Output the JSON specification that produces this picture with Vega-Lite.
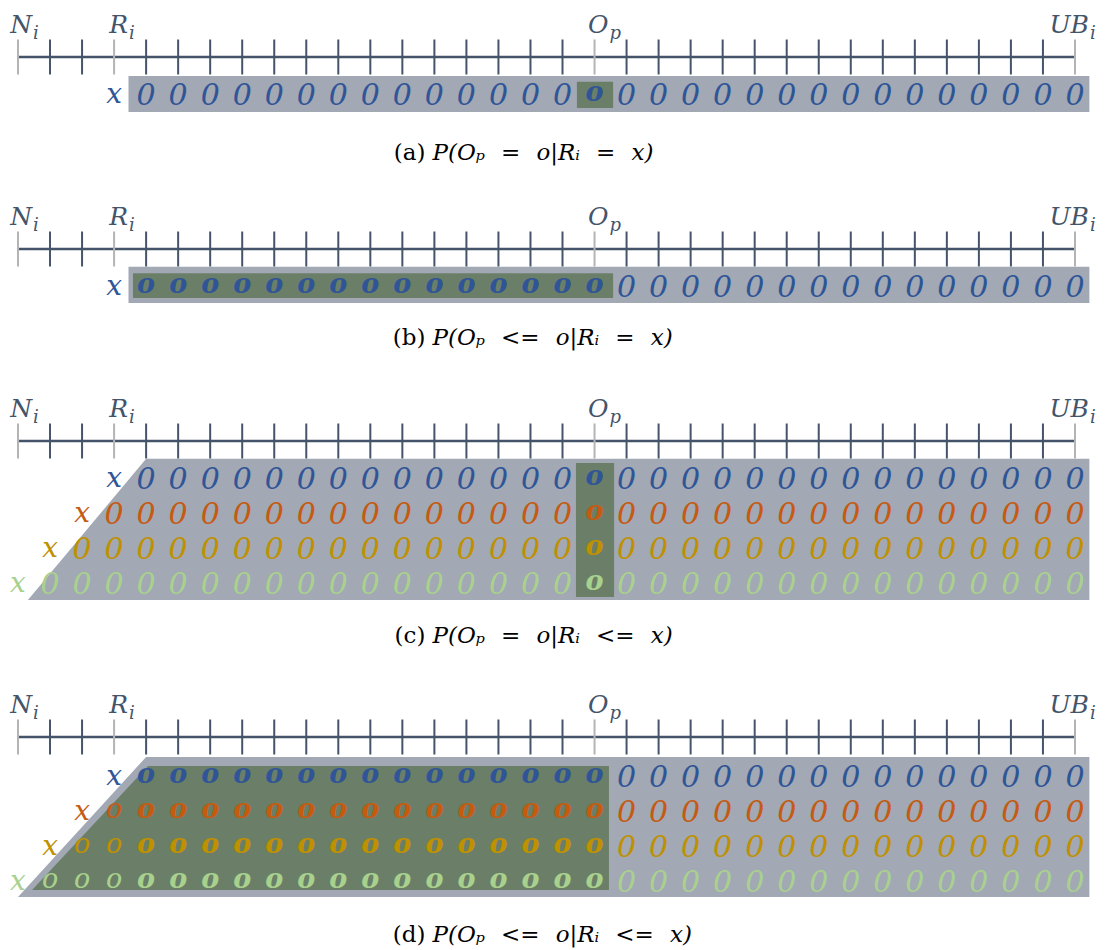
{
"$schema": "https://vega.github.io/schema/vega-lite/v6.json",
"padding": 0,
"spacing": 0,
"bounds": "flush",
"config": {"view": {"stroke": null}, "axis": {"disable": true}, "legend": {"disable": true}},
"resolve": {"scale": {"x": "independent", "y": "independent", "color": "shared"}},
"datasets": {
"ticks": [{"c":0,"k":"k"},{"c":1,"k":"m"},{"c":2,"k":"m"},{"c":3,"k":"k"},{"c":4,"k":"m"},{"c":5,"k":"m"},{"c":6,"k":"m"},{"c":7,"k":"m"},{"c":8,"k":"m"},{"c":9,"k":"m"},{"c":10,"k":"m"},{"c":11,"k":"m"},{"c":12,"k":"m"},{"c":13,"k":"m"},{"c":14,"k":"m"},{"c":15,"k":"m"},{"c":16,"k":"m"},{"c":17,"k":"m"},{"c":18,"k":"k"},{"c":19,"k":"m"},{"c":20,"k":"m"},{"c":21,"k":"m"},{"c":22,"k":"m"},{"c":23,"k":"m"},{"c":24,"k":"m"},{"c":25,"k":"m"},{"c":26,"k":"m"},{"c":27,"k":"m"},{"c":28,"k":"m"},{"c":29,"k":"m"},{"c":30,"k":"m"},{"c":31,"k":"m"},{"c":32,"k":"m"},{"c":33,"k":"k"}],
"labels": [{"c":0,"t":"N","s":"i"},{"c":3,"t":"R","s":"i"},{"c":18,"t":"O","s":"p"},{"c":33,"t":"UB","s":"i"}],
"shapes": [
{"p":"a","g":"gray","r":0.54,"c":3.45,"c2":33.45},{"p":"a","g":"gray","r":1.57,"c":3.45,"c2":33.45},
{"p":"a","g":"green","r":0.71,"c":17.45,"c2":18.58},{"p":"a","g":"green","r":1.46,"c":17.45,"c2":18.58},
{"p":"b","g":"gray","r":0.51,"c":3.45,"c2":33.45},{"p":"b","g":"gray","r":1.54,"c":3.45,"c2":33.45},
{"p":"b","g":"green","r":0.69,"c":3.59,"c2":18.58},{"p":"b","g":"green","r":1.4,"c":3.59,"c2":18.58},
{"p":"c","g":"gray","r":0.51,"c":4.0,"c2":33.45},{"p":"c","g":"gray","r":4.54,"c":0.31,"c2":33.45},
{"p":"c","g":"green","r":0.63,"c":17.42,"c2":18.61},{"p":"c","g":"green","r":4.46,"c":17.42,"c2":18.61},
{"p":"d","g":"gray","r":0.57,"c":4.0,"c2":33.45},{"p":"d","g":"gray","r":4.57,"c":0.0,"c2":33.45},
{"p":"d","g":"green","r":0.83,"c":4.06,"c2":18.45},{"p":"d","g":"green","r":4.37,"c":0.44,"c2":18.45}],
"xs": [{"p":"a","r":1,"c":3},{"p":"b","r":1,"c":3},{"p":"c","r":1,"c":3},{"p":"c","r":2,"c":2},{"p":"c","r":3,"c":1},{"p":"c","r":4,"c":0},{"p":"d","r":1,"c":3},{"p":"d","r":2,"c":2},{"p":"d","r":3,"c":1},{"p":"d","r":4,"c":0}],
"caps": [{"p":"a","tag":"(a)","f":"P(Oₚ\u2002\u2009=\u2002\u2009o|Rᵢ\u2002\u2009=\u2002\u2009x)"},{"p":"b","tag":"(b)","f":"P(Oₚ\u2002\u2009<=\u2002\u2009o|Rᵢ\u2002\u2009=\u2002\u2009x)"},{"p":"c","tag":"(c)","f":"P(Oₚ\u2002\u2009=\u2002\u2009o|Rᵢ\u2002\u2009<=\u2002\u2009x)"},{"p":"d","tag":"(d)","f":"P(Oₚ\u2002\u2009<=\u2002\u2009o|Rᵢ\u2002\u2009<=\u2002\u2009x)"}],
"cells": [
{"p":"a","r":1,"c":4,"s":"n"},{"p":"a","r":1,"c":5,"s":"n"},{"p":"a","r":1,"c":6,"s":"n"},{"p":"a","r":1,"c":7,"s":"n"},{"p":"a","r":1,"c":8,"s":"n"},{"p":"a","r":1,"c":9,"s":"n"},{"p":"a","r":1,"c":10,"s":"n"},{"p":"a","r":1,"c":11,"s":"n"},{"p":"a","r":1,"c":12,"s":"n"},{"p":"a","r":1,"c":13,"s":"n"},{"p":"a","r":1,"c":14,"s":"n"},{"p":"a","r":1,"c":15,"s":"n"},{"p":"a","r":1,"c":16,"s":"n"},{"p":"a","r":1,"c":17,"s":"n"},{"p":"a","r":1,"c":18,"s":"b"},{"p":"a","r":1,"c":19,"s":"n"},{"p":"a","r":1,"c":20,"s":"n"},{"p":"a","r":1,"c":21,"s":"n"},{"p":"a","r":1,"c":22,"s":"n"},{"p":"a","r":1,"c":23,"s":"n"},{"p":"a","r":1,"c":24,"s":"n"},{"p":"a","r":1,"c":25,"s":"n"},{"p":"a","r":1,"c":26,"s":"n"},{"p":"a","r":1,"c":27,"s":"n"},{"p":"a","r":1,"c":28,"s":"n"},{"p":"a","r":1,"c":29,"s":"n"},{"p":"a","r":1,"c":30,"s":"n"},{"p":"a","r":1,"c":31,"s":"n"},{"p":"a","r":1,"c":32,"s":"n"},{"p":"a","r":1,"c":33,"s":"n"},
{"p":"b","r":1,"c":4,"s":"b"},{"p":"b","r":1,"c":5,"s":"b"},{"p":"b","r":1,"c":6,"s":"b"},{"p":"b","r":1,"c":7,"s":"b"},{"p":"b","r":1,"c":8,"s":"b"},{"p":"b","r":1,"c":9,"s":"b"},{"p":"b","r":1,"c":10,"s":"b"},{"p":"b","r":1,"c":11,"s":"b"},{"p":"b","r":1,"c":12,"s":"b"},{"p":"b","r":1,"c":13,"s":"b"},{"p":"b","r":1,"c":14,"s":"b"},{"p":"b","r":1,"c":15,"s":"b"},{"p":"b","r":1,"c":16,"s":"b"},{"p":"b","r":1,"c":17,"s":"b"},{"p":"b","r":1,"c":18,"s":"b"},{"p":"b","r":1,"c":19,"s":"n"},{"p":"b","r":1,"c":20,"s":"n"},{"p":"b","r":1,"c":21,"s":"n"},{"p":"b","r":1,"c":22,"s":"n"},{"p":"b","r":1,"c":23,"s":"n"},{"p":"b","r":1,"c":24,"s":"n"},{"p":"b","r":1,"c":25,"s":"n"},{"p":"b","r":1,"c":26,"s":"n"},{"p":"b","r":1,"c":27,"s":"n"},{"p":"b","r":1,"c":28,"s":"n"},{"p":"b","r":1,"c":29,"s":"n"},{"p":"b","r":1,"c":30,"s":"n"},{"p":"b","r":1,"c":31,"s":"n"},{"p":"b","r":1,"c":32,"s":"n"},{"p":"b","r":1,"c":33,"s":"n"},
{"p":"c","r":1,"c":4,"s":"n"},{"p":"c","r":1,"c":5,"s":"n"},{"p":"c","r":1,"c":6,"s":"n"},{"p":"c","r":1,"c":7,"s":"n"},{"p":"c","r":1,"c":8,"s":"n"},{"p":"c","r":1,"c":9,"s":"n"},{"p":"c","r":1,"c":10,"s":"n"},{"p":"c","r":1,"c":11,"s":"n"},{"p":"c","r":1,"c":12,"s":"n"},{"p":"c","r":1,"c":13,"s":"n"},{"p":"c","r":1,"c":14,"s":"n"},{"p":"c","r":1,"c":15,"s":"n"},{"p":"c","r":1,"c":16,"s":"n"},{"p":"c","r":1,"c":17,"s":"n"},{"p":"c","r":1,"c":18,"s":"b"},{"p":"c","r":1,"c":19,"s":"n"},{"p":"c","r":1,"c":20,"s":"n"},{"p":"c","r":1,"c":21,"s":"n"},{"p":"c","r":1,"c":22,"s":"n"},{"p":"c","r":1,"c":23,"s":"n"},{"p":"c","r":1,"c":24,"s":"n"},{"p":"c","r":1,"c":25,"s":"n"},{"p":"c","r":1,"c":26,"s":"n"},{"p":"c","r":1,"c":27,"s":"n"},{"p":"c","r":1,"c":28,"s":"n"},{"p":"c","r":1,"c":29,"s":"n"},{"p":"c","r":1,"c":30,"s":"n"},{"p":"c","r":1,"c":31,"s":"n"},{"p":"c","r":1,"c":32,"s":"n"},{"p":"c","r":1,"c":33,"s":"n"},
{"p":"c","r":2,"c":3,"s":"n"},{"p":"c","r":2,"c":4,"s":"n"},{"p":"c","r":2,"c":5,"s":"n"},{"p":"c","r":2,"c":6,"s":"n"},{"p":"c","r":2,"c":7,"s":"n"},{"p":"c","r":2,"c":8,"s":"n"},{"p":"c","r":2,"c":9,"s":"n"},{"p":"c","r":2,"c":10,"s":"n"},{"p":"c","r":2,"c":11,"s":"n"},{"p":"c","r":2,"c":12,"s":"n"},{"p":"c","r":2,"c":13,"s":"n"},{"p":"c","r":2,"c":14,"s":"n"},{"p":"c","r":2,"c":15,"s":"n"},{"p":"c","r":2,"c":16,"s":"n"},{"p":"c","r":2,"c":17,"s":"n"},{"p":"c","r":2,"c":18,"s":"b"},{"p":"c","r":2,"c":19,"s":"n"},{"p":"c","r":2,"c":20,"s":"n"},{"p":"c","r":2,"c":21,"s":"n"},{"p":"c","r":2,"c":22,"s":"n"},{"p":"c","r":2,"c":23,"s":"n"},{"p":"c","r":2,"c":24,"s":"n"},{"p":"c","r":2,"c":25,"s":"n"},{"p":"c","r":2,"c":26,"s":"n"},{"p":"c","r":2,"c":27,"s":"n"},{"p":"c","r":2,"c":28,"s":"n"},{"p":"c","r":2,"c":29,"s":"n"},{"p":"c","r":2,"c":30,"s":"n"},{"p":"c","r":2,"c":31,"s":"n"},{"p":"c","r":2,"c":32,"s":"n"},{"p":"c","r":2,"c":33,"s":"n"},
{"p":"c","r":3,"c":2,"s":"n"},{"p":"c","r":3,"c":3,"s":"n"},{"p":"c","r":3,"c":4,"s":"n"},{"p":"c","r":3,"c":5,"s":"n"},{"p":"c","r":3,"c":6,"s":"n"},{"p":"c","r":3,"c":7,"s":"n"},{"p":"c","r":3,"c":8,"s":"n"},{"p":"c","r":3,"c":9,"s":"n"},{"p":"c","r":3,"c":10,"s":"n"},{"p":"c","r":3,"c":11,"s":"n"},{"p":"c","r":3,"c":12,"s":"n"},{"p":"c","r":3,"c":13,"s":"n"},{"p":"c","r":3,"c":14,"s":"n"},{"p":"c","r":3,"c":15,"s":"n"},{"p":"c","r":3,"c":16,"s":"n"},{"p":"c","r":3,"c":17,"s":"n"},{"p":"c","r":3,"c":18,"s":"b"},{"p":"c","r":3,"c":19,"s":"n"},{"p":"c","r":3,"c":20,"s":"n"},{"p":"c","r":3,"c":21,"s":"n"},{"p":"c","r":3,"c":22,"s":"n"},{"p":"c","r":3,"c":23,"s":"n"},{"p":"c","r":3,"c":24,"s":"n"},{"p":"c","r":3,"c":25,"s":"n"},{"p":"c","r":3,"c":26,"s":"n"},{"p":"c","r":3,"c":27,"s":"n"},{"p":"c","r":3,"c":28,"s":"n"},{"p":"c","r":3,"c":29,"s":"n"},{"p":"c","r":3,"c":30,"s":"n"},{"p":"c","r":3,"c":31,"s":"n"},{"p":"c","r":3,"c":32,"s":"n"},{"p":"c","r":3,"c":33,"s":"n"},
{"p":"c","r":4,"c":1,"s":"n"},{"p":"c","r":4,"c":2,"s":"n"},{"p":"c","r":4,"c":3,"s":"n"},{"p":"c","r":4,"c":4,"s":"n"},{"p":"c","r":4,"c":5,"s":"n"},{"p":"c","r":4,"c":6,"s":"n"},{"p":"c","r":4,"c":7,"s":"n"},{"p":"c","r":4,"c":8,"s":"n"},{"p":"c","r":4,"c":9,"s":"n"},{"p":"c","r":4,"c":10,"s":"n"},{"p":"c","r":4,"c":11,"s":"n"},{"p":"c","r":4,"c":12,"s":"n"},{"p":"c","r":4,"c":13,"s":"n"},{"p":"c","r":4,"c":14,"s":"n"},{"p":"c","r":4,"c":15,"s":"n"},{"p":"c","r":4,"c":16,"s":"n"},{"p":"c","r":4,"c":17,"s":"n"},{"p":"c","r":4,"c":18,"s":"b"},{"p":"c","r":4,"c":19,"s":"n"},{"p":"c","r":4,"c":20,"s":"n"},{"p":"c","r":4,"c":21,"s":"n"},{"p":"c","r":4,"c":22,"s":"n"},{"p":"c","r":4,"c":23,"s":"n"},{"p":"c","r":4,"c":24,"s":"n"},{"p":"c","r":4,"c":25,"s":"n"},{"p":"c","r":4,"c":26,"s":"n"},{"p":"c","r":4,"c":27,"s":"n"},{"p":"c","r":4,"c":28,"s":"n"},{"p":"c","r":4,"c":29,"s":"n"},{"p":"c","r":4,"c":30,"s":"n"},{"p":"c","r":4,"c":31,"s":"n"},{"p":"c","r":4,"c":32,"s":"n"},{"p":"c","r":4,"c":33,"s":"n"},
{"p":"d","r":1,"c":4,"s":"b"},{"p":"d","r":1,"c":5,"s":"b"},{"p":"d","r":1,"c":6,"s":"b"},{"p":"d","r":1,"c":7,"s":"b"},{"p":"d","r":1,"c":8,"s":"b"},{"p":"d","r":1,"c":9,"s":"b"},{"p":"d","r":1,"c":10,"s":"b"},{"p":"d","r":1,"c":11,"s":"b"},{"p":"d","r":1,"c":12,"s":"b"},{"p":"d","r":1,"c":13,"s":"b"},{"p":"d","r":1,"c":14,"s":"b"},{"p":"d","r":1,"c":15,"s":"b"},{"p":"d","r":1,"c":16,"s":"b"},{"p":"d","r":1,"c":17,"s":"b"},{"p":"d","r":1,"c":18,"s":"b"},{"p":"d","r":1,"c":19,"s":"n"},{"p":"d","r":1,"c":20,"s":"n"},{"p":"d","r":1,"c":21,"s":"n"},{"p":"d","r":1,"c":22,"s":"n"},{"p":"d","r":1,"c":23,"s":"n"},{"p":"d","r":1,"c":24,"s":"n"},{"p":"d","r":1,"c":25,"s":"n"},{"p":"d","r":1,"c":26,"s":"n"},{"p":"d","r":1,"c":27,"s":"n"},{"p":"d","r":1,"c":28,"s":"n"},{"p":"d","r":1,"c":29,"s":"n"},{"p":"d","r":1,"c":30,"s":"n"},{"p":"d","r":1,"c":31,"s":"n"},{"p":"d","r":1,"c":32,"s":"n"},{"p":"d","r":1,"c":33,"s":"n"},
{"p":"d","r":2,"c":3,"s":"e"},{"p":"d","r":2,"c":4,"s":"b"},{"p":"d","r":2,"c":5,"s":"b"},{"p":"d","r":2,"c":6,"s":"b"},{"p":"d","r":2,"c":7,"s":"b"},{"p":"d","r":2,"c":8,"s":"b"},{"p":"d","r":2,"c":9,"s":"b"},{"p":"d","r":2,"c":10,"s":"b"},{"p":"d","r":2,"c":11,"s":"b"},{"p":"d","r":2,"c":12,"s":"b"},{"p":"d","r":2,"c":13,"s":"b"},{"p":"d","r":2,"c":14,"s":"b"},{"p":"d","r":2,"c":15,"s":"b"},{"p":"d","r":2,"c":16,"s":"b"},{"p":"d","r":2,"c":17,"s":"b"},{"p":"d","r":2,"c":18,"s":"b"},{"p":"d","r":2,"c":19,"s":"n"},{"p":"d","r":2,"c":20,"s":"n"},{"p":"d","r":2,"c":21,"s":"n"},{"p":"d","r":2,"c":22,"s":"n"},{"p":"d","r":2,"c":23,"s":"n"},{"p":"d","r":2,"c":24,"s":"n"},{"p":"d","r":2,"c":25,"s":"n"},{"p":"d","r":2,"c":26,"s":"n"},{"p":"d","r":2,"c":27,"s":"n"},{"p":"d","r":2,"c":28,"s":"n"},{"p":"d","r":2,"c":29,"s":"n"},{"p":"d","r":2,"c":30,"s":"n"},{"p":"d","r":2,"c":31,"s":"n"},{"p":"d","r":2,"c":32,"s":"n"},{"p":"d","r":2,"c":33,"s":"n"},
{"p":"d","r":3,"c":2,"s":"e"},{"p":"d","r":3,"c":3,"s":"e"},{"p":"d","r":3,"c":4,"s":"b"},{"p":"d","r":3,"c":5,"s":"b"},{"p":"d","r":3,"c":6,"s":"b"},{"p":"d","r":3,"c":7,"s":"b"},{"p":"d","r":3,"c":8,"s":"b"},{"p":"d","r":3,"c":9,"s":"b"},{"p":"d","r":3,"c":10,"s":"b"},{"p":"d","r":3,"c":11,"s":"b"},{"p":"d","r":3,"c":12,"s":"b"},{"p":"d","r":3,"c":13,"s":"b"},{"p":"d","r":3,"c":14,"s":"b"},{"p":"d","r":3,"c":15,"s":"b"},{"p":"d","r":3,"c":16,"s":"b"},{"p":"d","r":3,"c":17,"s":"b"},{"p":"d","r":3,"c":18,"s":"b"},{"p":"d","r":3,"c":19,"s":"n"},{"p":"d","r":3,"c":20,"s":"n"},{"p":"d","r":3,"c":21,"s":"n"},{"p":"d","r":3,"c":22,"s":"n"},{"p":"d","r":3,"c":23,"s":"n"},{"p":"d","r":3,"c":24,"s":"n"},{"p":"d","r":3,"c":25,"s":"n"},{"p":"d","r":3,"c":26,"s":"n"},{"p":"d","r":3,"c":27,"s":"n"},{"p":"d","r":3,"c":28,"s":"n"},{"p":"d","r":3,"c":29,"s":"n"},{"p":"d","r":3,"c":30,"s":"n"},{"p":"d","r":3,"c":31,"s":"n"},{"p":"d","r":3,"c":32,"s":"n"},{"p":"d","r":3,"c":33,"s":"n"},
{"p":"d","r":4,"c":1,"s":"e"},{"p":"d","r":4,"c":2,"s":"e"},{"p":"d","r":4,"c":3,"s":"e"},{"p":"d","r":4,"c":4,"s":"b"},{"p":"d","r":4,"c":5,"s":"b"},{"p":"d","r":4,"c":6,"s":"b"},{"p":"d","r":4,"c":7,"s":"b"},{"p":"d","r":4,"c":8,"s":"b"},{"p":"d","r":4,"c":9,"s":"b"},{"p":"d","r":4,"c":10,"s":"b"},{"p":"d","r":4,"c":11,"s":"b"},{"p":"d","r":4,"c":12,"s":"b"},{"p":"d","r":4,"c":13,"s":"b"},{"p":"d","r":4,"c":14,"s":"b"},{"p":"d","r":4,"c":15,"s":"b"},{"p":"d","r":4,"c":16,"s":"b"},{"p":"d","r":4,"c":17,"s":"b"},{"p":"d","r":4,"c":18,"s":"b"},{"p":"d","r":4,"c":19,"s":"n"},{"p":"d","r":4,"c":20,"s":"n"},{"p":"d","r":4,"c":21,"s":"n"},{"p":"d","r":4,"c":22,"s":"n"},{"p":"d","r":4,"c":23,"s":"n"},{"p":"d","r":4,"c":24,"s":"n"},{"p":"d","r":4,"c":25,"s":"n"},{"p":"d","r":4,"c":26,"s":"n"},{"p":"d","r":4,"c":27,"s":"n"},{"p":"d","r":4,"c":28,"s":"n"},{"p":"d","r":4,"c":29,"s":"n"},{"p":"d","r":4,"c":30,"s":"n"},{"p":"d","r":4,"c":31,"s":"n"},{"p":"d","r":4,"c":32,"s":"n"},{"p":"d","r":4,"c":33,"s":"n"}
]
},
"vconcat": [
{"width": 1117, "height": 192,
 "layer": [
  {"data":{"name":"shapes"},"transform":[{"filter":"datum.p=='a' && datum.g=='gray'"}],"mark":{"type":"area","orient":"horizontal","color":"#a2a8b4"},"encoding":{"x":{"field":"c","type":"quantitative","scale":{"domain":[-0.562,34.312],"nice":false,"zero":false}},"x2":{"field":"c2"},"y":{"field":"r","type":"quantitative","scale":{"domain":[-1.6286,3.8571],"nice":false,"zero":false,"reverse":true}}}},
  {"data":{"name":"shapes"},"transform":[{"filter":"datum.p=='a' && datum.g=='green'"}],"mark":{"type":"area","orient":"horizontal","color":"#6b7f68"},"encoding":{"x":{"field":"c","type":"quantitative","scale":{"domain":[-0.562,34.312],"nice":false,"zero":false}},"x2":{"field":"c2"},"y":{"field":"r","type":"quantitative","scale":{"domain":[-1.6286,3.8571],"nice":false,"zero":false,"reverse":true}}}},
  {"data":{"name":"ticks"},"mark":{"type":"rule","color":"#44546a","strokeWidth":2.5},"encoding":{"x":{"aggregate":"min","field":"c","type":"quantitative","scale":{"domain":[-0.562,34.312],"nice":false,"zero":false}},"x2":{"aggregate":"max","field":"c"},"y":{"datum":0,"type":"quantitative","scale":{"domain":[-1.6286,3.8571],"nice":false,"zero":false,"reverse":true}}}},
  {"data":{"name":"ticks"},"transform":[{"filter":"datum.k=='m'"}],"mark":{"type":"rule","color":"#44546a","strokeWidth":2},"encoding":{"x":{"field":"c","type":"quantitative","scale":{"domain":[-0.562,34.312],"nice":false,"zero":false}},"y":{"datum":-0.5,"type":"quantitative","scale":{"domain":[-1.6286,3.8571],"nice":false,"zero":false,"reverse":true}},"y2":{"datum":0.5}}},
  {"data":{"name":"ticks"},"transform":[{"filter":"datum.k=='k'"}],"mark":{"type":"rule","color":"#b4b4b4","strokeWidth":2},"encoding":{"x":{"field":"c","type":"quantitative","scale":{"domain":[-0.562,34.312],"nice":false,"zero":false}},"y":{"datum":-0.5,"type":"quantitative","scale":{"domain":[-1.6286,3.8571],"nice":false,"zero":false,"reverse":true}},"y2":{"datum":0.5}}},
  {"data":{"name":"labels"},"mark":{"type":"text","align":"right","baseline":"alphabetic","dx":14,"font":"DejaVu Serif","fontStyle":"italic","fontSize":25,"color":"#44546a"},"encoding":{"x":{"field":"c","type":"quantitative","scale":{"domain":[-0.562,34.312],"nice":false,"zero":false}},"y":{"datum":-0.7,"type":"quantitative","scale":{"domain":[-1.6286,3.8571],"nice":false,"zero":false,"reverse":true}},"text":{"field":"t"}}},
  {"data":{"name":"labels"},"mark":{"type":"text","align":"left","baseline":"alphabetic","dx":15,"dy":6,"font":"DejaVu Serif","fontStyle":"italic","fontSize":18,"color":"#44546a"},"encoding":{"x":{"field":"c","type":"quantitative","scale":{"domain":[-0.562,34.312],"nice":false,"zero":false}},"y":{"datum":-0.7,"type":"quantitative","scale":{"domain":[-1.6286,3.8571],"nice":false,"zero":false,"reverse":true}},"text":{"field":"s"}}},
  {"data":{"name":"cells"},"transform":[{"filter":"datum.p=='a' && datum.s=='n'"}],"mark":{"type":"text","baseline":"alphabetic","dy":13,"font":"DejaVu Serif","fontStyle":"italic","fontSize":30},"encoding":{"x":{"field":"c","type":"quantitative","scale":{"domain":[-0.562,34.312],"nice":false,"zero":false}},"y":{"field":"r","type":"quantitative","scale":{"domain":[-1.6286,3.8571],"nice":false,"zero":false,"reverse":true}},"text":{"value":"0"},"color":{"field":"r","type":"ordinal","scale":{"domain":[1,2,3,4],"range":["#2f5597","#c55a11","#bf9000","#a9d18e"]}}}},
  {"data":{"name":"cells"},"transform":[{"filter":"datum.p=='a' && datum.s=='b'"}],"mark":{"type":"text","baseline":"alphabetic","dy":9,"font":"DejaVu Serif","fontStyle":"italic","fontWeight":"bold","fontSize":27},"encoding":{"x":{"field":"c","type":"quantitative","scale":{"domain":[-0.562,34.312],"nice":false,"zero":false}},"y":{"field":"r","type":"quantitative","scale":{"domain":[-1.6286,3.8571],"nice":false,"zero":false,"reverse":true}},"text":{"value":"o"},"color":{"field":"r","type":"ordinal","scale":{"domain":[1,2,3,4],"range":["#2f5597","#c55a11","#bf9000","#a9d18e"]}}}},
  {"data":{"name":"xs"},"transform":[{"filter":"datum.p=='a'"}],"mark":{"type":"text","baseline":"alphabetic","dy":11,"font":"DejaVu Serif","fontStyle":"italic","fontSize":28},"encoding":{"x":{"field":"c","type":"quantitative","scale":{"domain":[-0.562,34.312],"nice":false,"zero":false}},"y":{"field":"r","type":"quantitative","scale":{"domain":[-1.6286,3.8571],"nice":false,"zero":false,"reverse":true}},"text":{"value":"x"},"color":{"field":"r","type":"ordinal","scale":{"domain":[1,2,3,4],"range":["#2f5597","#c55a11","#bf9000","#a9d18e"]}}}},
  {"data":{"name":"caps"},"transform":[{"filter":"datum.p=='a'"}],"mark":{"type":"text","align":"right","baseline":"middle","font":"DejaVu Serif","fontSize":23,"color":"#000000"},"encoding":{"x":{"datum":12.72,"type":"quantitative","scale":{"domain":[-0.562,34.312],"nice":false,"zero":false}},"y":{"datum":2.74,"type":"quantitative","scale":{"domain":[-1.6286,3.8571],"nice":false,"zero":false,"reverse":true}},"text":{"field":"tag"}}},
  {"data":{"name":"caps"},"transform":[{"filter":"datum.p=='a'"}],"mark":{"type":"text","align":"left","baseline":"middle","font":"DejaVu Serif","fontStyle":"italic","fontSize":23,"color":"#000000"},"encoding":{"x":{"datum":12.94,"type":"quantitative","scale":{"domain":[-0.562,34.312],"nice":false,"zero":false}},"y":{"datum":2.74,"type":"quantitative","scale":{"domain":[-1.6286,3.8571],"nice":false,"zero":false,"reverse":true}},"text":{"field":"f"}}}
 ]},
{"width": 1117, "height": 192,
 "layer": [
  {"data":{"name":"shapes"},"transform":[{"filter":"datum.p=='b' && datum.g=='gray'"}],"mark":{"type":"area","orient":"horizontal","color":"#a2a8b4"},"encoding":{"x":{"field":"c","type":"quantitative","scale":{"domain":[-0.562,34.312],"nice":false,"zero":false}},"x2":{"field":"c2"},"y":{"field":"r","type":"quantitative","scale":{"domain":[-1.6286,3.8571],"nice":false,"zero":false,"reverse":true}}}},
  {"data":{"name":"shapes"},"transform":[{"filter":"datum.p=='b' && datum.g=='green'"}],"mark":{"type":"area","orient":"horizontal","color":"#6b7f68"},"encoding":{"x":{"field":"c","type":"quantitative","scale":{"domain":[-0.562,34.312],"nice":false,"zero":false}},"x2":{"field":"c2"},"y":{"field":"r","type":"quantitative","scale":{"domain":[-1.6286,3.8571],"nice":false,"zero":false,"reverse":true}}}},
  {"data":{"name":"ticks"},"mark":{"type":"rule","color":"#44546a","strokeWidth":2.5},"encoding":{"x":{"aggregate":"min","field":"c","type":"quantitative","scale":{"domain":[-0.562,34.312],"nice":false,"zero":false}},"x2":{"aggregate":"max","field":"c"},"y":{"datum":0,"type":"quantitative","scale":{"domain":[-1.6286,3.8571],"nice":false,"zero":false,"reverse":true}}}},
  {"data":{"name":"ticks"},"transform":[{"filter":"datum.k=='m'"}],"mark":{"type":"rule","color":"#44546a","strokeWidth":2},"encoding":{"x":{"field":"c","type":"quantitative","scale":{"domain":[-0.562,34.312],"nice":false,"zero":false}},"y":{"datum":-0.5,"type":"quantitative","scale":{"domain":[-1.6286,3.8571],"nice":false,"zero":false,"reverse":true}},"y2":{"datum":0.5}}},
  {"data":{"name":"ticks"},"transform":[{"filter":"datum.k=='k'"}],"mark":{"type":"rule","color":"#b4b4b4","strokeWidth":2},"encoding":{"x":{"field":"c","type":"quantitative","scale":{"domain":[-0.562,34.312],"nice":false,"zero":false}},"y":{"datum":-0.5,"type":"quantitative","scale":{"domain":[-1.6286,3.8571],"nice":false,"zero":false,"reverse":true}},"y2":{"datum":0.5}}},
  {"data":{"name":"labels"},"mark":{"type":"text","align":"right","baseline":"alphabetic","dx":14,"font":"DejaVu Serif","fontStyle":"italic","fontSize":25,"color":"#44546a"},"encoding":{"x":{"field":"c","type":"quantitative","scale":{"domain":[-0.562,34.312],"nice":false,"zero":false}},"y":{"datum":-0.7,"type":"quantitative","scale":{"domain":[-1.6286,3.8571],"nice":false,"zero":false,"reverse":true}},"text":{"field":"t"}}},
  {"data":{"name":"labels"},"mark":{"type":"text","align":"left","baseline":"alphabetic","dx":15,"dy":6,"font":"DejaVu Serif","fontStyle":"italic","fontSize":18,"color":"#44546a"},"encoding":{"x":{"field":"c","type":"quantitative","scale":{"domain":[-0.562,34.312],"nice":false,"zero":false}},"y":{"datum":-0.7,"type":"quantitative","scale":{"domain":[-1.6286,3.8571],"nice":false,"zero":false,"reverse":true}},"text":{"field":"s"}}},
  {"data":{"name":"cells"},"transform":[{"filter":"datum.p=='b' && datum.s=='n'"}],"mark":{"type":"text","baseline":"alphabetic","dy":13,"font":"DejaVu Serif","fontStyle":"italic","fontSize":30},"encoding":{"x":{"field":"c","type":"quantitative","scale":{"domain":[-0.562,34.312],"nice":false,"zero":false}},"y":{"field":"r","type":"quantitative","scale":{"domain":[-1.6286,3.8571],"nice":false,"zero":false,"reverse":true}},"text":{"value":"0"},"color":{"field":"r","type":"ordinal","scale":{"domain":[1,2,3,4],"range":["#2f5597","#c55a11","#bf9000","#a9d18e"]}}}},
  {"data":{"name":"cells"},"transform":[{"filter":"datum.p=='b' && datum.s=='b'"}],"mark":{"type":"text","baseline":"alphabetic","dy":9,"font":"DejaVu Serif","fontStyle":"italic","fontWeight":"bold","fontSize":27},"encoding":{"x":{"field":"c","type":"quantitative","scale":{"domain":[-0.562,34.312],"nice":false,"zero":false}},"y":{"field":"r","type":"quantitative","scale":{"domain":[-1.6286,3.8571],"nice":false,"zero":false,"reverse":true}},"text":{"value":"o"},"color":{"field":"r","type":"ordinal","scale":{"domain":[1,2,3,4],"range":["#2f5597","#c55a11","#bf9000","#a9d18e"]}}}},
  {"data":{"name":"xs"},"transform":[{"filter":"datum.p=='b'"}],"mark":{"type":"text","baseline":"alphabetic","dy":11,"font":"DejaVu Serif","fontStyle":"italic","fontSize":28},"encoding":{"x":{"field":"c","type":"quantitative","scale":{"domain":[-0.562,34.312],"nice":false,"zero":false}},"y":{"field":"r","type":"quantitative","scale":{"domain":[-1.6286,3.8571],"nice":false,"zero":false,"reverse":true}},"text":{"value":"x"},"color":{"field":"r","type":"ordinal","scale":{"domain":[1,2,3,4],"range":["#2f5597","#c55a11","#bf9000","#a9d18e"]}}}},
  {"data":{"name":"caps"},"transform":[{"filter":"datum.p=='b'"}],"mark":{"type":"text","align":"right","baseline":"middle","font":"DejaVu Serif","fontSize":23,"color":"#000000"},"encoding":{"x":{"datum":12.72,"type":"quantitative","scale":{"domain":[-0.562,34.312],"nice":false,"zero":false}},"y":{"datum":2.54,"type":"quantitative","scale":{"domain":[-1.6286,3.8571],"nice":false,"zero":false,"reverse":true}},"text":{"field":"tag"}}},
  {"data":{"name":"caps"},"transform":[{"filter":"datum.p=='b'"}],"mark":{"type":"text","align":"left","baseline":"middle","font":"DejaVu Serif","fontStyle":"italic","fontSize":23,"color":"#000000"},"encoding":{"x":{"datum":12.94,"type":"quantitative","scale":{"domain":[-0.562,34.312],"nice":false,"zero":false}},"y":{"datum":2.54,"type":"quantitative","scale":{"domain":[-1.6286,3.8571],"nice":false,"zero":false,"reverse":true}},"text":{"field":"f"}}}
 ]},
{"width": 1117, "height": 296,
 "layer": [
  {"data":{"name":"shapes"},"transform":[{"filter":"datum.p=='c' && datum.g=='gray'"}],"mark":{"type":"area","orient":"horizontal","color":"#a2a8b4"},"encoding":{"x":{"field":"c","type":"quantitative","scale":{"domain":[-0.562,34.312],"nice":false,"zero":false}},"x2":{"field":"c2"},"y":{"field":"r","type":"quantitative","scale":{"domain":[-1.6286,6.8286],"nice":false,"zero":false,"reverse":true}}}},
  {"data":{"name":"shapes"},"transform":[{"filter":"datum.p=='c' && datum.g=='green'"}],"mark":{"type":"area","orient":"horizontal","color":"#6b7f68"},"encoding":{"x":{"field":"c","type":"quantitative","scale":{"domain":[-0.562,34.312],"nice":false,"zero":false}},"x2":{"field":"c2"},"y":{"field":"r","type":"quantitative","scale":{"domain":[-1.6286,6.8286],"nice":false,"zero":false,"reverse":true}}}},
  {"data":{"name":"ticks"},"mark":{"type":"rule","color":"#44546a","strokeWidth":2.5},"encoding":{"x":{"aggregate":"min","field":"c","type":"quantitative","scale":{"domain":[-0.562,34.312],"nice":false,"zero":false}},"x2":{"aggregate":"max","field":"c"},"y":{"datum":0,"type":"quantitative","scale":{"domain":[-1.6286,6.8286],"nice":false,"zero":false,"reverse":true}}}},
  {"data":{"name":"ticks"},"transform":[{"filter":"datum.k=='m'"}],"mark":{"type":"rule","color":"#44546a","strokeWidth":2},"encoding":{"x":{"field":"c","type":"quantitative","scale":{"domain":[-0.562,34.312],"nice":false,"zero":false}},"y":{"datum":-0.5,"type":"quantitative","scale":{"domain":[-1.6286,6.8286],"nice":false,"zero":false,"reverse":true}},"y2":{"datum":0.5}}},
  {"data":{"name":"ticks"},"transform":[{"filter":"datum.k=='k'"}],"mark":{"type":"rule","color":"#b4b4b4","strokeWidth":2},"encoding":{"x":{"field":"c","type":"quantitative","scale":{"domain":[-0.562,34.312],"nice":false,"zero":false}},"y":{"datum":-0.5,"type":"quantitative","scale":{"domain":[-1.6286,6.8286],"nice":false,"zero":false,"reverse":true}},"y2":{"datum":0.5}}},
  {"data":{"name":"labels"},"mark":{"type":"text","align":"right","baseline":"alphabetic","dx":14,"font":"DejaVu Serif","fontStyle":"italic","fontSize":25,"color":"#44546a"},"encoding":{"x":{"field":"c","type":"quantitative","scale":{"domain":[-0.562,34.312],"nice":false,"zero":false}},"y":{"datum":-0.7,"type":"quantitative","scale":{"domain":[-1.6286,6.8286],"nice":false,"zero":false,"reverse":true}},"text":{"field":"t"}}},
  {"data":{"name":"labels"},"mark":{"type":"text","align":"left","baseline":"alphabetic","dx":15,"dy":6,"font":"DejaVu Serif","fontStyle":"italic","fontSize":18,"color":"#44546a"},"encoding":{"x":{"field":"c","type":"quantitative","scale":{"domain":[-0.562,34.312],"nice":false,"zero":false}},"y":{"datum":-0.7,"type":"quantitative","scale":{"domain":[-1.6286,6.8286],"nice":false,"zero":false,"reverse":true}},"text":{"field":"s"}}},
  {"data":{"name":"cells"},"transform":[{"filter":"datum.p=='c' && datum.s=='n'"}],"mark":{"type":"text","baseline":"alphabetic","dy":13,"font":"DejaVu Serif","fontStyle":"italic","fontSize":30},"encoding":{"x":{"field":"c","type":"quantitative","scale":{"domain":[-0.562,34.312],"nice":false,"zero":false}},"y":{"field":"r","type":"quantitative","scale":{"domain":[-1.6286,6.8286],"nice":false,"zero":false,"reverse":true}},"text":{"value":"0"},"color":{"field":"r","type":"ordinal","scale":{"domain":[1,2,3,4],"range":["#2f5597","#c55a11","#bf9000","#a9d18e"]}}}},
  {"data":{"name":"cells"},"transform":[{"filter":"datum.p=='c' && datum.s=='b'"}],"mark":{"type":"text","baseline":"alphabetic","dy":9,"font":"DejaVu Serif","fontStyle":"italic","fontWeight":"bold","fontSize":27},"encoding":{"x":{"field":"c","type":"quantitative","scale":{"domain":[-0.562,34.312],"nice":false,"zero":false}},"y":{"field":"r","type":"quantitative","scale":{"domain":[-1.6286,6.8286],"nice":false,"zero":false,"reverse":true}},"text":{"value":"o"},"color":{"field":"r","type":"ordinal","scale":{"domain":[1,2,3,4],"range":["#2f5597","#c55a11","#bf9000","#a9d18e"]}}}},
  {"data":{"name":"xs"},"transform":[{"filter":"datum.p=='c'"}],"mark":{"type":"text","baseline":"alphabetic","dy":11,"font":"DejaVu Serif","fontStyle":"italic","fontSize":28},"encoding":{"x":{"field":"c","type":"quantitative","scale":{"domain":[-0.562,34.312],"nice":false,"zero":false}},"y":{"field":"r","type":"quantitative","scale":{"domain":[-1.6286,6.8286],"nice":false,"zero":false,"reverse":true}},"text":{"value":"x"},"color":{"field":"r","type":"ordinal","scale":{"domain":[1,2,3,4],"range":["#2f5597","#c55a11","#bf9000","#a9d18e"]}}}},
  {"data":{"name":"caps"},"transform":[{"filter":"datum.p=='c'"}],"mark":{"type":"text","align":"right","baseline":"middle","font":"DejaVu Serif","fontSize":23,"color":"#000000"},"encoding":{"x":{"datum":12.72,"type":"quantitative","scale":{"domain":[-0.562,34.312],"nice":false,"zero":false}},"y":{"datum":5.57,"type":"quantitative","scale":{"domain":[-1.6286,6.8286],"nice":false,"zero":false,"reverse":true}},"text":{"field":"tag"}}},
  {"data":{"name":"caps"},"transform":[{"filter":"datum.p=='c'"}],"mark":{"type":"text","align":"left","baseline":"middle","font":"DejaVu Serif","fontStyle":"italic","fontSize":23,"color":"#000000"},"encoding":{"x":{"datum":12.94,"type":"quantitative","scale":{"domain":[-0.562,34.312],"nice":false,"zero":false}},"y":{"datum":5.57,"type":"quantitative","scale":{"domain":[-1.6286,6.8286],"nice":false,"zero":false,"reverse":true}},"text":{"field":"f"}}}
 ]},
{"width": 1117, "height": 270,
 "layer": [
  {"data":{"name":"shapes"},"transform":[{"filter":"datum.p=='d' && datum.g=='gray'"}],"mark":{"type":"area","orient":"horizontal","color":"#a2a8b4"},"encoding":{"x":{"field":"c","type":"quantitative","scale":{"domain":[-0.562,34.312],"nice":false,"zero":false}},"x2":{"field":"c2"},"y":{"field":"r","type":"quantitative","scale":{"domain":[-1.6286,6.0857],"nice":false,"zero":false,"reverse":true}}}},
  {"data":{"name":"shapes"},"transform":[{"filter":"datum.p=='d' && datum.g=='green'"}],"mark":{"type":"area","orient":"horizontal","color":"#6b7f68"},"encoding":{"x":{"field":"c","type":"quantitative","scale":{"domain":[-0.562,34.312],"nice":false,"zero":false}},"x2":{"field":"c2"},"y":{"field":"r","type":"quantitative","scale":{"domain":[-1.6286,6.0857],"nice":false,"zero":false,"reverse":true}}}},
  {"data":{"name":"ticks"},"mark":{"type":"rule","color":"#44546a","strokeWidth":2.5},"encoding":{"x":{"aggregate":"min","field":"c","type":"quantitative","scale":{"domain":[-0.562,34.312],"nice":false,"zero":false}},"x2":{"aggregate":"max","field":"c"},"y":{"datum":0,"type":"quantitative","scale":{"domain":[-1.6286,6.0857],"nice":false,"zero":false,"reverse":true}}}},
  {"data":{"name":"ticks"},"transform":[{"filter":"datum.k=='m'"}],"mark":{"type":"rule","color":"#44546a","strokeWidth":2},"encoding":{"x":{"field":"c","type":"quantitative","scale":{"domain":[-0.562,34.312],"nice":false,"zero":false}},"y":{"datum":-0.5,"type":"quantitative","scale":{"domain":[-1.6286,6.0857],"nice":false,"zero":false,"reverse":true}},"y2":{"datum":0.5}}},
  {"data":{"name":"ticks"},"transform":[{"filter":"datum.k=='k'"}],"mark":{"type":"rule","color":"#b4b4b4","strokeWidth":2},"encoding":{"x":{"field":"c","type":"quantitative","scale":{"domain":[-0.562,34.312],"nice":false,"zero":false}},"y":{"datum":-0.5,"type":"quantitative","scale":{"domain":[-1.6286,6.0857],"nice":false,"zero":false,"reverse":true}},"y2":{"datum":0.5}}},
  {"data":{"name":"labels"},"mark":{"type":"text","align":"right","baseline":"alphabetic","dx":14,"font":"DejaVu Serif","fontStyle":"italic","fontSize":25,"color":"#44546a"},"encoding":{"x":{"field":"c","type":"quantitative","scale":{"domain":[-0.562,34.312],"nice":false,"zero":false}},"y":{"datum":-0.7,"type":"quantitative","scale":{"domain":[-1.6286,6.0857],"nice":false,"zero":false,"reverse":true}},"text":{"field":"t"}}},
  {"data":{"name":"labels"},"mark":{"type":"text","align":"left","baseline":"alphabetic","dx":15,"dy":6,"font":"DejaVu Serif","fontStyle":"italic","fontSize":18,"color":"#44546a"},"encoding":{"x":{"field":"c","type":"quantitative","scale":{"domain":[-0.562,34.312],"nice":false,"zero":false}},"y":{"datum":-0.7,"type":"quantitative","scale":{"domain":[-1.6286,6.0857],"nice":false,"zero":false,"reverse":true}},"text":{"field":"s"}}},
  {"data":{"name":"cells"},"transform":[{"filter":"datum.p=='d' && datum.s=='n'"}],"mark":{"type":"text","baseline":"alphabetic","dy":15,"font":"DejaVu Serif","fontStyle":"italic","fontSize":30},"encoding":{"x":{"field":"c","type":"quantitative","scale":{"domain":[-0.562,34.312],"nice":false,"zero":false}},"y":{"field":"r","type":"quantitative","scale":{"domain":[-1.6286,6.0857],"nice":false,"zero":false,"reverse":true}},"text":{"value":"0"},"color":{"field":"r","type":"ordinal","scale":{"domain":[1,2,3,4],"range":["#2f5597","#c55a11","#bf9000","#a9d18e"]}}}},
  {"data":{"name":"cells"},"transform":[{"filter":"datum.p=='d' && datum.s=='b'"}],"mark":{"type":"text","baseline":"alphabetic","dy":11,"font":"DejaVu Serif","fontStyle":"italic","fontWeight":"bold","fontSize":27},"encoding":{"x":{"field":"c","type":"quantitative","scale":{"domain":[-0.562,34.312],"nice":false,"zero":false}},"y":{"field":"r","type":"quantitative","scale":{"domain":[-1.6286,6.0857],"nice":false,"zero":false,"reverse":true}},"text":{"value":"o"},"color":{"field":"r","type":"ordinal","scale":{"domain":[1,2,3,4],"range":["#2f5597","#c55a11","#bf9000","#a9d18e"]}}}},
  {"data":{"name":"cells"},"transform":[{"filter":"datum.p=='d' && datum.s=='e'"}],"mark":{"type":"text","baseline":"alphabetic","dy":11,"font":"DejaVu Serif","fontStyle":"italic","fontSize":27},"encoding":{"x":{"field":"c","type":"quantitative","scale":{"domain":[-0.562,34.312],"nice":false,"zero":false}},"y":{"field":"r","type":"quantitative","scale":{"domain":[-1.6286,6.0857],"nice":false,"zero":false,"reverse":true}},"text":{"value":"o"},"color":{"field":"r","type":"ordinal","scale":{"domain":[1,2,3,4],"range":["#2f5597","#c55a11","#bf9000","#a9d18e"]}}}},
  {"data":{"name":"xs"},"transform":[{"filter":"datum.p=='d'"}],"mark":{"type":"text","baseline":"alphabetic","dy":13,"font":"DejaVu Serif","fontStyle":"italic","fontSize":28},"encoding":{"x":{"field":"c","type":"quantitative","scale":{"domain":[-0.562,34.312],"nice":false,"zero":false}},"y":{"field":"r","type":"quantitative","scale":{"domain":[-1.6286,6.0857],"nice":false,"zero":false,"reverse":true}},"text":{"value":"x"},"color":{"field":"r","type":"ordinal","scale":{"domain":[1,2,3,4],"range":["#2f5597","#c55a11","#bf9000","#a9d18e"]}}}},
  {"data":{"name":"caps"},"transform":[{"filter":"datum.p=='d'"}],"mark":{"type":"text","align":"right","baseline":"middle","font":"DejaVu Serif","fontSize":23,"color":"#000000"},"encoding":{"x":{"datum":12.72,"type":"quantitative","scale":{"domain":[-0.562,34.312],"nice":false,"zero":false}},"y":{"datum":5.66,"type":"quantitative","scale":{"domain":[-1.6286,6.0857],"nice":false,"zero":false,"reverse":true}},"text":{"field":"tag"}}},
  {"data":{"name":"caps"},"transform":[{"filter":"datum.p=='d'"}],"mark":{"type":"text","align":"left","baseline":"middle","font":"DejaVu Serif","fontStyle":"italic","fontSize":23,"color":"#000000"},"encoding":{"x":{"datum":12.94,"type":"quantitative","scale":{"domain":[-0.562,34.312],"nice":false,"zero":false}},"y":{"datum":5.66,"type":"quantitative","scale":{"domain":[-1.6286,6.0857],"nice":false,"zero":false,"reverse":true}},"text":{"field":"f"}}}
 ]}
]
}
